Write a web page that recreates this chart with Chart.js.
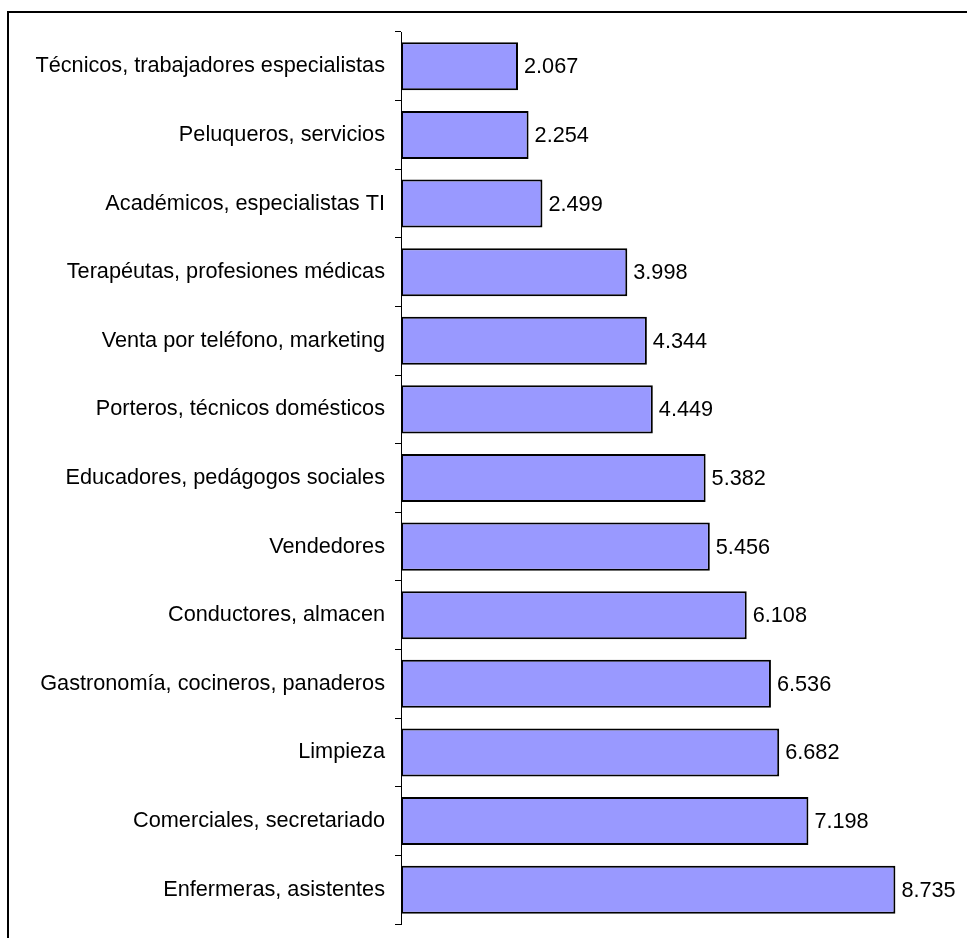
<!DOCTYPE html>
<html>
<head>
<meta charset="utf-8">
<script src="https://cdn.jsdelivr.net/npm/chart.js@4.4.0/dist/chart.umd.min.js"></script>
<style>
  html, body { margin: 0; padding: 0; background: #fff; }
  #wrap { position: relative; width: 967px; height: 938px; overflow: hidden; }
  #frame { position: absolute; left: 7px; top: 11px; width: 1000px; height: 1000px;
           border-top: 2px solid #000; border-left: 2px solid #000; }
  #chart { position: absolute; left: 0; top: 0; }
</style>
</head>
<body>
<div id="wrap">
  <div id="frame"></div>
  <canvas id="chart" width="967" height="938"></canvas>
</div>
<script>
// categories, top to bottom
const categories = [
  'Técnicos, trabajadores especialistas',
  'Peluqueros, servicios',
  'Académicos, especialistas TI',
  'Terapéutas, profesiones médicas',
  'Venta por teléfono, marketing',
  'Porteros, técnicos domésticos',
  'Educadores, pedágogos sociales',
  'Vendedores',
  'Conductores, almacen',
  'Gastronomía, cocineros, panaderos',
  'Limpieza',
  'Comerciales, secretariado',
  'Enfermeras, asistentes'
];
const values = [2067, 2254, 2499, 3998, 4344, 4449, 5382, 5456, 6108, 6536, 6682, 7198, 8735];

const FONT = 'Arial, "Liberation Sans", sans-serif';
const FONT_SIZE = 21.7;

function fmt(v) {
  return String(v).replace(/\B(?=(\d{3})+(?!\d))/g, '.');
}

// --- value labels next to each bar ---
const valueLabels = {
  id: 'valueLabels',
  afterDatasetsDraw(chart) {
    const ctx = chart.ctx;
    const meta = chart.getDatasetMeta(0);
    ctx.save();
    ctx.font = FONT_SIZE + 'px ' + FONT;
    ctx.fillStyle = '#000';
    ctx.textAlign = 'left';
    ctx.textBaseline = 'middle';
    meta.data.forEach((bar, i) => {
      ctx.fillText(fmt(values[i]), bar.x + 6, bar.y + 1);
    });
    ctx.restore();
  }
};

new Chart(document.getElementById('chart').getContext('2d'), {
  type: 'bar',
  data: {
    labels: categories,
    datasets: [{
      data: values,
      backgroundColor: '#9999FF',
      borderColor: '#000',
      borderWidth: 2,
      borderSkipped: false,
      categoryPercentage: 1,
      barPercentage: 0.7
    }]
  },
  options: {
    indexAxis: 'y',
    responsive: false,
    animation: false,
    layout: { padding: { top: 32, bottom: 14, left: 0, right: 0 } },
    plugins: { legend: { display: false }, tooltip: { enabled: false } },
    scales: {
      x: { display: false, min: 0, max: 10000 },
      y: {
        offset: true,
        afterFit(scale) {
          scale.width = 401;
          scale.paddingTop = 0;
          scale.paddingBottom = 0;
        },
        grid: {
          offset: true,
          drawOnChartArea: false,
          tickLength: 6,
          color: '#000'
        },
        border: { color: '#000', width: 1 },
        ticks: {
          color: '#000',
          padding: 10,
          font: { family: FONT, size: FONT_SIZE }
        }
      }
    }
  },
  plugins: [valueLabels]
});
</script>
</body>
</html>
